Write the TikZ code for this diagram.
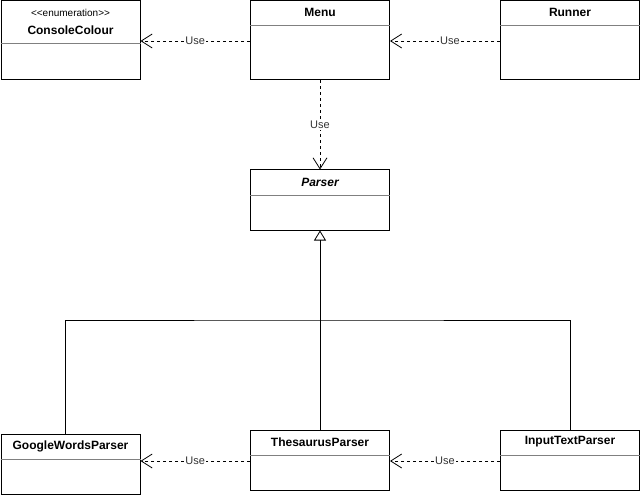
\documentclass[tikz,border=0pt]{standalone}
\usepackage{fontspec}
\setmainfont{Liberation Sans}
\usetikzlibrary{positioning,arrows.meta}
\begin{document}
\begin{tikzpicture}[x=1pt,y=-1pt,
  cls/.style = {draw, line width=1pt, minimum width=139pt, inner sep=0pt},
  sep/.style = {draw=black!50, line width=0.7pt},
  title/.style = {font=\fontsize{12}{14}\selectfont\bfseries},
  stereo/.style = {font=\fontsize{10}{12}\selectfont},
  use/.style = {line width=0.8pt, dash pattern=on 3pt off 3pt, -{Straight Barb[length=11pt,width=14pt,line width=0.8pt]}},
  uselabel/.style = {fill=white, inner sep=1pt, font=\fontsize{11}{13}\selectfont, text=black!80},
  gen/.style = {line width=0.8pt, -{Triangle[open,length=10pt,width=12pt,line width=0.8pt]}}]
\useasboundingbox (0,0) rectangle (641,495);
% top row
\node (CC) at (70.5,40.5)[cls,minimum height=79pt] {};
\node at (70.5,13)[stereo] {\textless{}\textless{}enumeration\textgreater{}\textgreater{}};
\node at (70.5,30)[title] {ConsoleColour};
\draw[sep] (CC.west |- 0,43) -- (CC.east |- 0,43);
\node (menu) at (320,40.5)[cls,minimum height=79pt] {};
\node at (320,12)[title] {Menu};
\draw[sep] (menu.west |- 0,25) -- (menu.east |- 0,25);
\node (runner) at (570,40.5)[cls,minimum height=79pt] {};
\node at (570,12)[title] {Runner};
\draw[sep] (runner.west |- 0,25) -- (runner.east |- 0,25);
% parser
\node (parser) at (320,200)[cls,minimum height=60pt] {};
\node at (320,182)[title,font=\fontsize{12}{14}\selectfont\bfseries\itshape] {Parser};
\draw[sep] (parser.west |- 0,195) -- (parser.east |- 0,195);
% bottom row
\node (google) at (70.5,464)[cls,minimum height=60pt] {};
\node at (70.5,446)[title] {GoogleWordsParser};
\draw[sep] (google.west |- 0,459) -- (google.east |- 0,459);
\node (thes) at (320,460)[cls,minimum height=60pt] {};
\node at (320,442)[title] {ThesaurusParser};
\draw[sep] (thes.west |- 0,455) -- (thes.east |- 0,455);
\node (input) at (570,460)[cls,minimum height=60pt] {};
\node at (570,442)[title] {InputTextParser};
\draw[sep] (input.west |- 0,455) -- (input.east |- 0,455);
% dependencies
\draw[use] (menu.west |- 0,41) -- node[uselabel] {Use} (CC.east |- 0,41);
\draw[use] (runner.west |- 0,41) -- node[uselabel,xshift=5pt] {Use} (menu.east |- 0,41);
\draw[use] (menu.south) -- node[uselabel] {Use} (parser.north);
\draw[use] (thes.west |- 0,461) -- node[uselabel] {Use} (google.east |- 0,461);
\draw[use] (input.west |- 0,461) -- node[uselabel] {Use} (thes.east |- 0,461);
% generalisation
\coordinate (split) at (320,320);
\draw[line width=0.8pt] (google.north -| 65,0) |- (split) -| (input.north);
\draw[gen] (thes.north) -- (parser.south);
\end{tikzpicture}
\end{document}
